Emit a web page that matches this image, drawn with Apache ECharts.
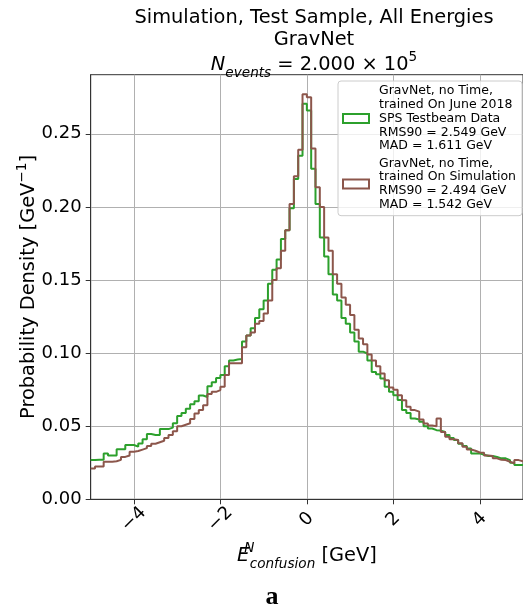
<!DOCTYPE html>
<html><head><meta charset="utf-8">
<script src="https://cdn.jsdelivr.net/npm/echarts@6/dist/echarts.min.js"></script>
<style>html,body{margin:0;padding:0;background:#fff}#c{width:523px;height:612px}</style>
</head><body><div id="c"></div>
<script>
// Histogram binning (100 bins of width 0.1 from -5 to 5)
const binStart = -5;
const binWidth = 0.1;
const binCount = 100;

// Probability density per bin [GeV^-1]
const greenDensity = [
  0.0268, 0.027, 0.027, 0.0314, 0.030, 0.030, 0.0342, 0.0342, 0.0371, 0.0371,
  0.036, 0.0382, 0.041, 0.0446, 0.044, 0.044, 0.048, 0.048, 0.049, 0.052,
  0.057, 0.059, 0.062, 0.065, 0.067, 0.071, 0.070, 0.0774, 0.080, 0.083,
  0.085, 0.091, 0.095, 0.0956, 0.096, 0.108, 0.112, 0.117, 0.124, 0.130,
  0.136, 0.1475, 0.157, 0.164, 0.178, 0.184, 0.199, 0.219, 0.235, 0.2705,
  0.266, 0.226, 0.202, 0.179, 0.166, 0.154, 0.140, 0.136, 0.124, 0.120,
  0.114, 0.108, 0.101, 0.0997, 0.095, 0.087, 0.0855, 0.0826, 0.0769, 0.0735,
  0.0712, 0.068, 0.061, 0.059, 0.0553, 0.0546, 0.053, 0.050, 0.0484, 0.0473,
  0.047, 0.046, 0.044, 0.042, 0.0405, 0.038, 0.0365, 0.0348, 0.0314, 0.0314,
  0.0305, 0.0296, 0.0296, 0.029, 0.028, 0.028, 0.0268, 0.025, 0.0234, 0.0234
];
const brownDensity = [
  0.021, 0.0225, 0.0225, 0.0257, 0.0257, 0.026, 0.027, 0.029, 0.030, 0.0325,
  0.033, 0.034, 0.035, 0.0365, 0.038, 0.039, 0.040, 0.042, 0.044, 0.0465,
  0.050, 0.051, 0.052, 0.055, 0.0587, 0.061, 0.0644, 0.072, 0.0735, 0.0747,
  0.077, 0.085, 0.093, 0.093, 0.093, 0.104, 0.112, 0.114, 0.120, 0.122,
  0.127, 0.136, 0.150, 0.158, 0.170, 0.184, 0.202, 0.221, 0.239, 0.277,
  0.275, 0.240, 0.2135, 0.200, 0.179, 0.170, 0.154, 0.1475, 0.138, 0.133,
  0.126, 0.116, 0.110, 0.106, 0.099, 0.095, 0.091, 0.086, 0.0815, 0.0765,
  0.075, 0.0712, 0.0678, 0.0633, 0.061, 0.060, 0.0546, 0.0519, 0.0505, 0.050,
  0.0553, 0.046, 0.0428, 0.041, 0.0405, 0.0383, 0.036, 0.034, 0.0332, 0.032,
  0.0318, 0.030, 0.0296, 0.028, 0.027, 0.0268, 0.0257, 0.0246, 0.0268, 0.026
];

const seriesNames = [
  'GravNet, no Time,\ntrained On June 2018\nSPS Testbeam Data\nRMS90 = 2.549 GeV\nMAD = 1.611 GeV',
  'GravNet, no Time,\ntrained On Simulation\nRMS90 = 2.494 GeV\nMAD = 1.542 GeV'
];
const seriesColors = ['#2ca02c', '#8c564b'];

const xTicks = [-4, -2, 0, 2, 4];
const yTicks = [0, 0.05, 0.10, 0.15, 0.20, 0.25];
const xRange = [-5, 5];
const yRange = [0, 0.2904];

const FONT = 'DejaVu Sans';
const TICK_FS = 18;

function stepData(vals) {
  const out = [];
  for (let i = 0; i < binCount; i++) {
    out.push([+(binStart + i * binWidth).toFixed(2), vals[i]]);
  }
  out.push([+(binStart + binCount * binWidth).toFixed(2), vals[binCount - 1]]);
  return out;
}

const chart = echarts.init(document.getElementById('c'), null, {renderer: 'canvas'});
chart.setOption({
  backgroundColor: '#ffffff',
  animation: false,
  textStyle: {fontFamily: FONT},
  title: [
    {text: 'Simulation, Test Sample, All Energies', left: 309, top: 3, textAlign: 'center',
     textStyle: {fontFamily: FONT, fontSize: 19.4, fontWeight: 'normal', color: '#000'}},
    {text: 'GravNet', left: 309, top: 25, textAlign: 'center',
     textStyle: {fontFamily: FONT, fontSize: 19.4, fontWeight: 'normal', color: '#000'}},
    {text: '{i|N}{s|events}{n| = 2.000 × 10}{p|5}', left: 309, top: 45, textAlign: 'center',
     textStyle: {fontFamily: FONT, fontSize: 19.4, fontWeight: 'normal', color: '#000',
       rich: {
         i: {fontFamily: FONT, fontSize: 19.4, fontStyle: 'italic', lineHeight: 30, color: '#000'},
         n: {fontFamily: FONT, fontSize: 19.4, lineHeight: 30, color: '#000'},
         s: {fontFamily: FONT, fontSize: 13.6, fontStyle: 'italic', lineHeight: 17, verticalAlign: 'bottom', color: '#000'},
         p: {fontFamily: FONT, fontSize: 13.6, lineHeight: 13, verticalAlign: 'top', color: '#000'}
       }}},
    {text: 'a', left: 267, top: 579, textAlign: 'center',
     textStyle: {fontFamily: 'Liberation Serif', fontSize: 26, fontWeight: 'bold', color: '#000'}}
  ],
  legend: {
    orient: 'vertical', left: 338, top: 81,
    padding: [3, 6, 4, 4],
    itemGap: 3.5,
    itemWidth: 26, itemHeight: 9,
    icon: 'rect',
    selectedMode: false,
    backgroundColor: 'rgba(255,255,255,0.8)',
    borderColor: '#cccccc', borderWidth: 1, borderRadius: 3,
    textStyle: {fontFamily: FONT, fontSize: 12.5, lineHeight: 13.8, color: '#000', padding: [0, 0, 0, 5]},
    data: seriesNames.map((n, k) => ({
      name: n,
      itemStyle: {color: 'rgba(255,255,255,0)', borderColor: seriesColors[k], borderWidth: 2}
    }))
  },
  grid: {left: 90.7, right: -4.3, top: 74.7, bottom: 112.7, show: true,
         borderColor: '#333', borderWidth: 1, backgroundColor: 'transparent'},
  xAxis: {
    type: 'value', min: xRange[0], max: xRange[1],
    axisLine: {show: true, onZero: false, lineStyle: {color: '#333', width: 1}},
    axisTick: {show: true, customValues: xTicks, length: 5, lineStyle: {color: '#333'}},
    axisLabel: {customValues: xTicks, rotate: 45, align: 'center', verticalAlign: 'middle', margin: 20,
      fontFamily: FONT, fontSize: TICK_FS, color: '#000',
      formatter: v => (v < 0 ? '\u2212' + Math.abs(v) : String(v))},
    splitLine: {show: true, lineStyle: {color: '#b0b0b0', width: 1}},
    name: '{e|E}{sup|N}{sub|confusion}{n| [GeV]}',
    nameLocation: 'middle', nameGap: 42, nameMoveOverlap: false,
    nameTextStyle: {fontFamily: FONT, fontSize: 19.4, color: '#000',
      rich: {
        e: {fontFamily: FONT, fontSize: 19.4, fontStyle: 'italic', lineHeight: 30, color: '#000'},
        n: {fontFamily: FONT, fontSize: 19.4, lineHeight: 30, color: '#000'},
        sup: {fontFamily: FONT, fontSize: 13.6, fontStyle: 'italic', lineHeight: 22, verticalAlign: 'top', width: 0.5, color: '#000'},
        sub: {fontFamily: FONT, fontSize: 13.6, fontStyle: 'italic', lineHeight: 18, verticalAlign: 'bottom', color: '#000'}
      }}
  },
  yAxis: {
    type: 'value', min: yRange[0], max: yRange[1],
    axisLine: {show: true, onZero: false, lineStyle: {color: '#333', width: 1}},
    axisTick: {show: true, customValues: yTicks, length: 5, lineStyle: {color: '#333'}},
    axisLabel: {customValues: yTicks, margin: 9, fontFamily: FONT, fontSize: TICK_FS, color: '#000',
      formatter: v => v.toFixed(2)},
    splitLine: {show: true, lineStyle: {color: '#b0b0b0', width: 1}},
    name: '{n|Probability Density [GeV}{p|\u22121}{n|]}',
    nameLocation: 'middle', nameRotate: 90, nameGap: 49, nameMoveOverlap: false,
    nameTextStyle: {fontFamily: FONT, fontSize: 19.4, color: '#000',
      rich: {
        n: {fontFamily: FONT, fontSize: 19.4, lineHeight: 26, color: '#000'},
        p: {fontFamily: FONT, fontSize: 13.6, lineHeight: 14, verticalAlign: 'top', color: '#000'}
      }}
  },
  series: [
    {name: seriesNames[0], type: 'line', step: 'end', symbol: 'none', data: stepData(greenDensity),
     lineStyle: {color: seriesColors[0], width: 2}, itemStyle: {color: seriesColors[0]}, z: 2},
    {name: seriesNames[1], type: 'line', step: 'end', symbol: 'none', data: stepData(brownDensity),
     lineStyle: {color: seriesColors[1], width: 2}, itemStyle: {color: seriesColors[1]}, z: 3}
  ]
});
</script>
</body></html>
